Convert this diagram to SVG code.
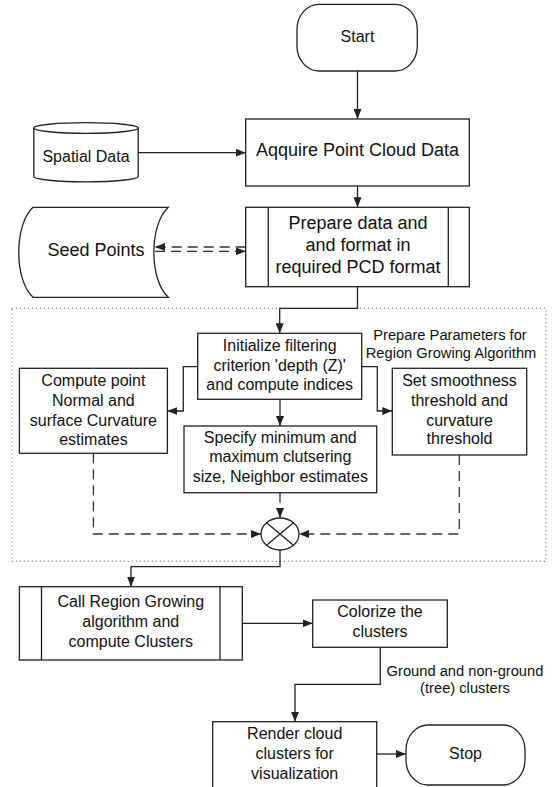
<svg xmlns="http://www.w3.org/2000/svg" width="553" height="787" viewBox="0 0 553 787">
<defs>
<marker id="arr" markerWidth="10" markerHeight="8" refX="10" refY="4" orient="auto" markerUnits="userSpaceOnUse"><path d="M0,0 L10,4 L0,8 Z" fill="#222"/></marker>
<style>
.n{fill:#fff;stroke:#222;stroke-width:1.3}
.c{fill:none;stroke:#222;stroke-width:1.3}
.d{fill:none;stroke:#333;stroke-width:1.3;stroke-dasharray:10 6}
.t{font-family:"Liberation Sans",Arial,sans-serif;fill:#111;text-anchor:middle;dominant-baseline:central}
.L{font-size:18px}
.M{font-size:16px}
.S{font-size:14.7px}
</style>
</defs>
<rect x="11.9" y="308.3" width="534" height="253" fill="none" stroke="#555" stroke-width="1" stroke-dasharray="1 3"/>
<g id="connectors">
<path class="c" d="M357.5,71 V119" marker-end="url(#arr)"/>
<path class="c" d="M138.2,152.7 H245.7" marker-end="url(#arr)"/>
<path class="c" d="M357.5,186 V207.3" marker-end="url(#arr)"/>
<path class="d" d="M245.7,247 H155" marker-end="url(#arr)"/>
<path class="d" d="M155,251.3 H245.7" marker-end="url(#arr)"/>
<path class="c" d="M357.5,286.7 V308.3 H279.7 V333.3" marker-end="url(#arr)"/>
<path class="c" d="M197.7,366.7 H183.3 V411 H167.4" marker-end="url(#arr)"/>
<path class="c" d="M361.7,366.7 H377.3 V411 H392.3" marker-end="url(#arr)"/>
<path class="c" d="M280,399.3 V426" marker-end="url(#arr)"/>
<path class="d" d="M93.4,453.3 V534 H261" marker-end="url(#arr)"/>
<path class="d" d="M459.3,455 V534 H299" marker-end="url(#arr)"/>
<path class="d" d="M280,492.7 V518" marker-end="url(#arr)"/>
<path class="c" d="M280,550 V566.7 H131 V586.7" marker-end="url(#arr)"/>
<path class="c" d="M242.3,623.3 H312.7" marker-end="url(#arr)"/>
<path class="c" d="M380.3,647.3 V684.3 H295 V721.7" marker-end="url(#arr)"/>
<path class="c" d="M376.7,754 H406" marker-end="url(#arr)"/>
</g>
<g id="start">
<rect class="n" x="297" y="4.3" width="120.3" height="66.7" rx="22" ry="25"/>
<text class="t M" x="357.5" y="36">Start</text>
</g>
<g id="spatial">
<path class="n" d="M33.8,128 A52.2,5.3 0 0 1 138.2,128 V176.5 A52.2,5.3 0 0 1 33.8,176.5 Z"/>
<path class="c" d="M33.8,128 A52.2,5.3 0 0 0 138.2,128"/>
<text class="t M" x="86" y="156.7">Spatial Data</text>
</g>
<g id="acquire">
<rect class="n" x="245.7" y="119" width="223.6" height="67"/>
<text class="t L" x="357.5" y="150">Aqquire Point Cloud Data</text>
</g>
<g id="seed">
<path class="n" d="M33,207.3 H168.3 C149,225 149,279.6 168.3,297.3 H33 C14,280 14,225 33,207.3 Z"/>
<text class="t L" x="96" y="250">Seed Points</text>
</g>
<g id="prepare">
<rect class="n" x="245.7" y="207.3" width="223.6" height="79.4"/>
<path class="c" d="M268.3,207.3 V286.7 M448.3,207.3 V286.7"/>
<text class="t L" x="358" y="223.3">Prepare data and</text>
<text class="t L" x="358" y="245">and format in</text>
<text class="t L" x="358" y="266.7">required PCD format</text>
</g>
<g id="params-label">
<text class="t S" x="450" y="335">Prepare Parameters for</text>
<text class="t S" x="451" y="353.3">Region Growing Algorithm</text>
</g>
<g id="initialize">
<rect class="n" x="197.7" y="333.3" width="164" height="66"/>
<text class="t M" x="279.7" y="345">Initialize filtering</text>
<text class="t M" x="279.7" y="365">criterion 'depth (Z)'</text>
<text class="t M" x="279.7" y="384.3">and compute indices</text>
</g>
<g id="compute">
<rect class="n" x="19.4" y="368.3" width="148" height="85"/>
<text class="t M" x="93.4" y="380">Compute point</text>
<text class="t M" x="93.4" y="400">Normal and</text>
<text class="t M" x="93.4" y="420">surface Curvature</text>
<text class="t M" x="93.4" y="439.3">estimates</text>
</g>
<g id="smooth">
<rect class="n" x="392.3" y="368.3" width="134.4" height="86.7"/>
<text class="t M" x="459.5" y="380">Set smoothness</text>
<text class="t M" x="459.5" y="400">threshold and</text>
<text class="t M" x="459.5" y="420">curvature</text>
<text class="t M" x="459.5" y="438.7">threshold</text>
</g>
<g id="specify">
<rect class="n" x="184" y="426" width="192.7" height="66.7"/>
<text class="t M" x="280.3" y="437.3">Specify minimum and</text>
<text class="t M" x="280.3" y="456.7">maximum clutsering</text>
<text class="t M" x="280.3" y="476.7">size, Neighbor estimates</text>
</g>
<g id="merge">
<ellipse class="n" cx="280" cy="534" rx="19" ry="16"/>
<path class="c" d="M266.6,522.7 L293.4,545.3 M293.4,522.7 L266.6,545.3"/>
</g>
<g id="region">
<rect class="n" x="19.4" y="586.7" width="222.9" height="73.3"/>
<path class="c" d="M41.5,586.7 V660 M220,586.7 V660"/>
<text class="t M" x="130.8" y="601.7">Call Region Growing</text>
<text class="t M" x="130.8" y="621.7">algorithm and</text>
<text class="t M" x="130.8" y="641.7">compute Clusters</text>
</g>
<g id="colorize">
<rect class="n" x="312.7" y="600" width="134.6" height="47.3"/>
<text class="t M" x="380" y="611.7">Colorize the</text>
<text class="t M" x="380" y="631.7">clusters</text>
</g>
<g id="ground-label">
<text class="t S" x="465" y="670.7">Ground and non-ground</text>
<text class="t S" x="465" y="688.3">(tree) clusters</text>
</g>
<g id="render">
<rect class="n" x="212.7" y="721.7" width="164" height="70"/>
<text class="t M" x="294.7" y="733.3">Render cloud</text>
<text class="t M" x="294.7" y="753.3">clusters for</text>
<text class="t M" x="294.7" y="773.3">visualization</text>
</g>
<g id="stop">
<rect class="n" x="406" y="725" width="119" height="60" rx="22" ry="25"/>
<text class="t M" x="465.5" y="753.5">Stop</text>
</g>
</svg>
